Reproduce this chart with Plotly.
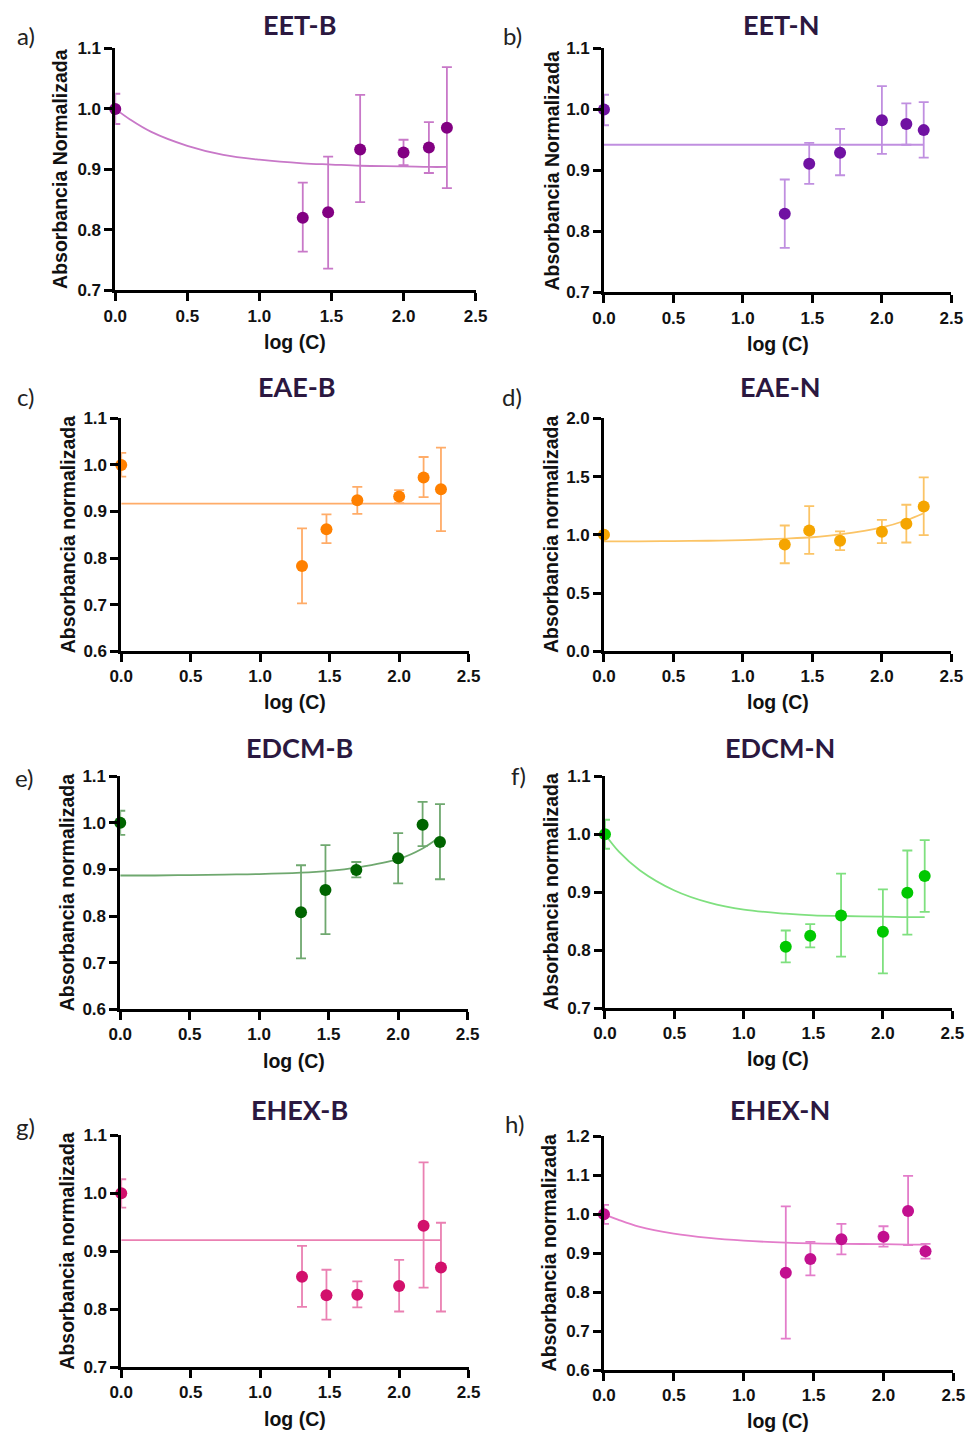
import plotly.graph_objects as go

# ---- mapping from target picture pixels to figure pixels (measured on earlier renders) ----
SX, SY = 0.98, 0.987
OX, OY = 8.26, 9.6
W, H = 978, 1442

# ---------------- data ----------------
X_LOG = [0.0, 1.301, 1.477, 1.699, 2.0, 2.176, 2.301]
FIT_X = [0.0, 0.1, 0.25, 0.5, 0.75, 1.0, 1.3, 1.5, 1.7, 2.0, 2.176, 2.301]

# a) EET-B
a_y = [1.0, 0.820, 0.829, 0.933, 0.928, 0.936, 0.969]
a_hi = [1.025, 0.878, 0.921, 1.023, 0.949, 0.978, 1.069]
a_lo = [0.975, 0.764, 0.736, 0.846, 0.907, 0.894, 0.869]
a_fit = [1.0, 0.983, 0.962, 0.939, 0.924, 0.916, 0.910, 0.908, 0.906, 0.905, 0.904, 0.904]

# b) EET-N
b_y = [1.0, 0.829, 0.911, 0.929, 0.982, 0.976, 0.966]
b_hi = [1.024, 0.885, 0.945, 0.968, 1.038, 1.010, 1.012]
b_lo = [0.974, 0.773, 0.878, 0.892, 0.927, 0.942, 0.921]
b_fit = [0.942] * 12

# c) EAE-B
c_y = [1.0, 0.783, 0.862, 0.924, 0.932, 0.973, 0.948]
c_hi = [1.026, 0.864, 0.894, 0.953, 0.946, 1.017, 1.037]
c_lo = [0.975, 0.703, 0.832, 0.895, 0.918, 0.931, 0.858]
c_fit = [0.917] * 12

# d) EAE-N
d_y = [1.0, 0.917, 1.037, 0.948, 1.026, 1.095, 1.244]
d_hi = [1.0, 1.080, 1.246, 1.030, 1.129, 1.258, 1.493]
d_lo = [1.0, 0.756, 0.837, 0.868, 0.928, 0.934, 0.997]
d_fit = [0.943, 0.944, 0.944, 0.946, 0.949, 0.955, 0.967, 0.979, 1.003, 1.063, 1.125, 1.185]

# e) EDCM-B
e_y = [1.0, 0.808, 0.856, 0.899, 0.924, 0.996, 0.959]
e_hi = [1.026, 0.909, 0.952, 0.916, 0.978, 1.045, 1.040]
e_lo = [0.974, 0.709, 0.761, 0.883, 0.870, 0.950, 0.879]
e_fit = [0.887, 0.887, 0.887, 0.888, 0.889, 0.890, 0.893, 0.897, 0.904, 0.922, 0.945, 0.970]

# f) EDCM-N
f_y = [1.0, 0.806, 0.825, 0.860, 0.832, 0.899, 0.928]
f_hi = [1.025, 0.834, 0.845, 0.932, 0.905, 0.972, 0.990]
f_lo = [0.975, 0.779, 0.805, 0.789, 0.760, 0.827, 0.866]
f_fit = [1.0, 0.970, 0.938, 0.903, 0.882, 0.870, 0.863, 0.860, 0.859, 0.858, 0.857, 0.857]

# g) EHEX-B
g_y = [1.0, 0.856, 0.824, 0.825, 0.840, 0.944, 0.872]
g_hi = [1.024, 0.909, 0.868, 0.848, 0.885, 1.053, 0.949]
g_lo = [0.975, 0.804, 0.782, 0.803, 0.796, 0.837, 0.796]
g_fit = [0.919] * 12

# h) EHEX-N
h_y = [1.0, 0.850, 0.885, 0.936, 0.942, 1.008, 0.905]
h_hi = [1.024, 1.020, 0.929, 0.975, 0.969, 1.098, 0.924]
h_lo = [0.975, 0.681, 0.843, 0.897, 0.917, 0.921, 0.886]
h_fit = [1.0, 0.986, 0.968, 0.950, 0.939, 0.932, 0.927, 0.925, 0.924, 0.923, 0.922, 0.922]

TITLES = ["EET-B", "EET-N", "EAE-B", "EAE-N", "EDCM-B", "EDCM-N", "EHEX-B", "EHEX-N"]
LETTERS = ["a)", "b)", "c)", "d)", "e)", "f)", "g)", "h)"]
YTITLES = ["Absorbancia Normalizada", "Absorbancia Normalizada",
           "Absorbancia normalizada", "Absorbancia normalizada",
           "Absorbancia normalizada", "Absorbancia normalizada",
           "Absorbancia normalizada", "Absorbancia normalizada"]
XTITLE = "log (C)"
X_TICKS = [0.0, 0.5, 1.0, 1.5, 2.0, 2.5]
Y_TICKS = [
    [0.7, 0.8, 0.9, 1.0, 1.1],
    [0.7, 0.8, 0.9, 1.0, 1.1],
    [0.6, 0.7, 0.8, 0.9, 1.0, 1.1],
    [0.0, 0.5, 1.0, 1.5, 2.0],
    [0.6, 0.7, 0.8, 0.9, 1.0, 1.1],
    [0.7, 0.8, 0.9, 1.0, 1.1],
    [0.7, 0.8, 0.9, 1.0, 1.1],
    [0.6, 0.7, 0.8, 0.9, 1.0, 1.1, 1.2],
]

SERIES = [
    (a_y, a_hi, a_lo, a_fit),
    (b_y, b_hi, b_lo, b_fit),
    (c_y, c_hi, c_lo, c_fit),
    (d_y, d_hi, d_lo, d_fit),
    (e_y, e_hi, e_lo, e_fit),
    (f_y, f_hi, f_lo, f_fit),
    (g_y, g_hi, g_lo, g_fit),
    (h_y, h_hi, h_lo, h_fit),
]

# ---------------- styles ----------------
MARKER_COLORS = ["#820082", "#7012a2", "#ff8000", "#f5a500",
                 "#006400", "#00c800", "#d2106c", "#c2108f"]
LINE_COLORS = ["#c878c8", "#c08fe0", "#ffac68", "#fbc466",
               "#6fa86f", "#7fe07f", "#ea80b2", "#e37dca"]

# plot areas in target pixels: (x_left, x_right, y_top, y_bottom)
BOXES = [
    (112, 474, 49, 291),
    (603, 952, 49, 293),
    (118, 467, 419, 652),
    (603, 952, 419, 652),
    (117, 466, 777, 1010),
    (604, 953, 777, 1009),
    (118, 467, 1136, 1368),
    (603, 954, 1137, 1371),
]
# (ytitle_x, xtitle_x, xtitle_y, title_x, title_y, letter_x, letter_y) in target pixels
LABEL_POS = [
    (57, 293, 343, 297, 25, 22, 36),
    (551, 778, 345, 781, 25, 511, 36),
    (64, 293, 703, 295, 387, 22, 397),
    (550, 778, 703, 780, 387, 511, 397),
    (63, 292, 1062, 297, 748, 21, 778),
    (550, 778, 1060, 780, 748, 517, 776),
    (64, 293, 1420, 297, 1110, 22, 1127),
    (548, 778, 1422, 780, 1110, 513, 1124),
]


def px(x):
    return (x - OX) / SX / W


def py(y):
    return 1 - (y - OY) / SY / H


TICK_FONT = dict(family="Liberation Sans", size=17, color="#111111", weight="bold")
AX_FONT = dict(family="Liberation Sans", size=19.5, color="#111111", weight="bold")
TITLE_FONT = dict(family="Lato", size=27, color="#2b1840", weight="bold")
LETTER_FONT = dict(family="Lato", size=24, color="#222222")

fig = go.Figure()
layout = dict(width=W, height=H, margin=dict(l=0, r=0, t=0, b=0),
              paper_bgcolor="white", plot_bgcolor="white", showlegend=False)
annotations = []

for i in range(8):
    n = "" if i == 0 else str(i + 1)
    xa, ya = "x" + n, "y" + n
    y, hi, lo, fit = SERIES[i]
    x0, x1, yt, yb = BOXES[i]
    plus = [h - v for h, v in zip(hi, y)]
    minus = [v - l for v, l in zip(y, lo)]
    fig.add_trace(go.Scatter(x=FIT_X, y=fit, mode="lines", line=dict(color=LINE_COLORS[i], width=1.8, shape="spline"),
                             xaxis=xa, yaxis=ya, cliponaxis=False, hoverinfo="skip"))
    fig.add_trace(go.Scatter(x=X_LOG, y=y, mode="markers",
                             marker=dict(color=MARKER_COLORS[i], size=12),
                             error_y=dict(type="data", symmetric=False, array=plus, arrayminus=minus,
                                          color=LINE_COLORS[i], thickness=1.8, width=5),
                             xaxis=xa, yaxis=ya, cliponaxis=False))
    yt_vals = Y_TICKS[i]
    layout["xaxis" + n] = dict(domain=[px(x0), px(x1)], anchor=ya, range=[0, 2.5],
                              tickvals=X_TICKS, ticktext=[f"{v:.1f}" for v in X_TICKS],
                              showline=True, linecolor="black", linewidth=2.6,
                              ticks="outside", ticklen=8, tickwidth=2.6, tickcolor="black",
                              showgrid=False, zeroline=False, tickfont=TICK_FONT)
    layout["yaxis" + n] = dict(domain=[py(yb), py(yt)], anchor=xa,
                              range=[yt_vals[0], yt_vals[-1]],
                              tickvals=yt_vals, ticktext=[f"{v:.1f}" for v in yt_vals],
                              showline=True, linecolor="black", linewidth=2.6,
                              ticks="outside", ticklen=8, tickwidth=2.6, tickcolor="black",
                              showgrid=False, zeroline=False, tickfont=TICK_FONT)
    ytx, xtx, xty, tx, ty, lx, ly = LABEL_POS[i]
    annotations.append(dict(text=YTITLES[i], x=px(ytx), y=py((yt + yb) / 2), xref="paper", yref="paper",
                            textangle=-90, showarrow=False, font=AX_FONT, xanchor="center", yanchor="middle"))
    annotations.append(dict(text=XTITLE, x=px(xtx), y=py(xty), xref="paper", yref="paper",
                            showarrow=False, font=AX_FONT, xanchor="center", yanchor="middle"))
    annotations.append(dict(text=TITLES[i], x=px(tx), y=py(ty), xref="paper", yref="paper",
                            showarrow=False, font=TITLE_FONT, xanchor="center", yanchor="middle"))
    annotations.append(dict(text=LETTERS[i], x=px(lx), y=py(ly), xref="paper", yref="paper",
                            showarrow=False, font=LETTER_FONT, xanchor="center", yanchor="middle"))

layout["annotations"] = annotations
fig.update_layout(**layout)
fig.write_html("out.html")
